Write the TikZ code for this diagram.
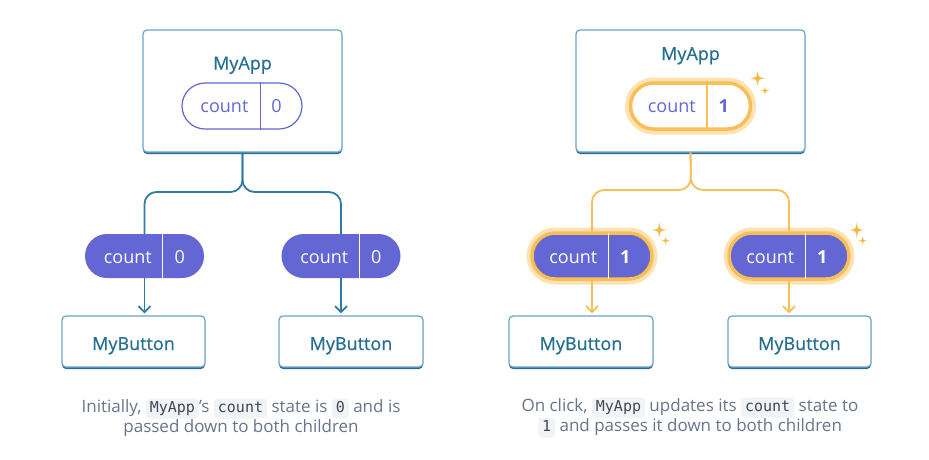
\documentclass[tikz,border=0pt]{standalone}
\usepackage{fontspec}
\setmainfont{Open Sans}
\setmonofont{DejaVu Sans Mono}
\newfontfamily\titlefont[FakeBold=0.6]{Open Sans}
\usetikzlibrary{arrows.meta,calc,shadows}

\definecolor{wire}{HTML}{2F7BA6}
\definecolor{boxline}{HTML}{6AA3C8}
\definecolor{boxdark}{HTML}{2D6D95}
\definecolor{title}{HTML}{246F92}
\definecolor{purp}{HTML}{6366D3}
\definecolor{gold}{HTML}{F9BE55}
\definecolor{glow}{HTML}{FDE3B2}
\definecolor{spark}{HTML}{F7B844}
\definecolor{captxt}{HTML}{677489}
\definecolor{codebg}{HTML}{F1F3F6}
\definecolor{codetxt}{HTML}{404756}

\tikzset{
  comp/.style={draw=boxline, line width=1.2pt, fill=white, rounded corners=4pt,
    drop shadow={shadow xshift=0pt, shadow yshift=-2pt, fill=boxdark, opacity=1}},
  compname/.style={anchor=base, text=title, font=\titlefont\fontsize{18}{20}\selectfont},
  cntpill/.style={minimum width=120pt, minimum height=46pt, rounded corners=23pt, inner sep=0pt},
  openpill/.style={cntpill, draw=purp, line width=1.2pt, fill=white},
  fullpill/.style={cntpill, fill=purp},
  litpill/.style={draw=gold, line width=3.5pt, preaction={draw=glow, line width=11pt}},
  cnt/.style={anchor=base, font=\fontsize{18}{20}\selectfont},
  wire/.style={draw=wire, line width=1.8pt},
  litwire/.style={draw=gold, line width=1.8pt},
  tip/.style={-{Straight Barb[length=6pt,width=12pt]}, shorten >=2pt},
  caption/.style={anchor=base, align=center, text=captxt, font=\fontsize{17}{20}\selectfont},
  codebox/.style={fill=codebg, rounded corners=4pt, inner xsep=4pt, inner ysep=2.5pt,
    text height=11pt, text depth=4pt, text=codetxt, font=\fontsize{15}{18}\ttfamily},
  sparkle/.pic={\fill[spark] (0,-1) .. controls (0.12,-0.12) .. (1,0)
    .. controls (0.12,0.12) .. (0,1) .. controls (-0.12,0.12) .. (-1,0)
    .. controls (-0.12,-0.12) .. (0,-1) -- cycle;}
}
\newcommand{\codechip}[1]{\tikz[baseline=(c.base)]\node[codebox](c){#1};}

\begin{document}
\begin{tikzpicture}[x=1pt, y=-1pt]
    \useasboundingbox (0,0) rectangle (929,459);

    % left: first render
    \node[comp, minimum width=199pt, minimum height=122pt] (app1) at (242.5,91) {};
    \node[compname] (app1n) at (242.5,69.5) {MyApp};
    \node[openpill] (p0) at (242,106) {};
    \draw[purp, line width=1.2pt] ($(p0.north west)+(79,0)$) -- ($(p0.south west)+(79,0)$);
    \node[cnt, text=purp] (p0a) at ($(p0.west)+(43,6.5)$) {count};
    \node[cnt, text=purp] (p0b) at ($(p0.west)+(95,6.5)$) {0};

    \node[fullpill, minimum width=119pt, minimum height=44pt, rounded corners=22pt] (p1) at (144.5,256) {};
    \draw[white, line width=1.2pt] ($(p1.north west)+(78,0)$) -- ($(p1.south west)+(78,0)$);
    \node[cnt, text=white] (p1a) at ($(p1.west)+(43,7)$) {count};
    \node[cnt, text=white] (p1b) at ($(p1.west)+(95,7)$) {0};

    \node[fullpill, minimum width=119pt, minimum height=44pt, rounded corners=22pt] (p2) at (341,256) {};
    \draw[white, line width=1.2pt] ($(p2.north west)+(78,0)$) -- ($(p2.south west)+(78,0)$);
    \node[cnt, text=white] (p2a) at ($(p2.west)+(43,7)$) {count};
    \node[cnt, text=white] (p2b) at ($(p2.west)+(95,7)$) {0};

    \node[comp, minimum width=143pt, minimum height=51pt] (b1) at (133.5,341.5) {};
    \node[compname] (b1n) at (133.5,350) {MyButton};
    \node[comp, minimum width=144pt, minimum height=51pt] (b2) at (351,341.5) {};
    \node[compname] (b2n) at (351,350) {MyButton};

    \coordinate (fork1) at (242.5,192);
    \draw[wire, rounded corners=12pt] (p1.north) |- (fork1) -- (app1.south);
    \draw[wire, rounded corners=12pt] (p2.north) |- (fork1) -- (app1.south);
    \draw[wire, tip] (p1.south) -- (p1.south |- b1.north);
    \draw[wire, tip] (p2.south) -- (p2.south |- b2.north);

    \node[caption] (cap1) at (241,432) {Initially, \codechip{MyApp}’s \codechip{count} state is \codechip{0} and is\\passed down to both children};

    % right: after the click
    \node[comp, minimum width=229pt, minimum height=122pt] (app2) at (690.5,91) {};
    \node[compname] (app2n) at (690.5,60) {MyApp};
    \node[openpill, litpill] (q0) at (690.5,106) {};
    \draw[gold, line width=1.5pt] ($(q0.north west)+(78,0)$) -- ($(q0.south west)+(78,0)$);
    \node[cnt, text=purp] (q0a) at ($(q0.west)+(43,6.5)$) {count};
    \node[cnt, text=purp] (q0b) at ($(q0.west)+(95,6.5)$) {\bfseries 1};
    \pic[scale=7.5] at (757.7,78.3) {sparkle};
    \pic[scale=4.5] at (765,90.7) {sparkle};

    \node[fullpill, litpill] (q1) at (592,256) {};
    \draw[white, line width=1.2pt, shorten <=1.7pt, shorten >=1.7pt] ($(q1.north west)+(78,0)$) -- ($(q1.south west)+(78,0)$);
    \node[cnt, text=white] (q1a) at ($(q1.west)+(43,7)$) {count};
    \node[cnt, text=white] (q1b) at ($(q1.west)+(95,7)$) {\bfseries 1};
    \pic[scale=7.5] at (659.3,230) {sparkle};
    \pic[scale=4.5] at (665.7,240.7) {sparkle};

    \node[fullpill, litpill] (q2) at (789,256) {};
    \draw[white, line width=1.2pt, shorten <=1.7pt, shorten >=1.7pt] ($(q2.north west)+(78,0)$) -- ($(q2.south west)+(78,0)$);
    \node[cnt, text=white] (q2a) at ($(q2.west)+(43,7)$) {count};
    \node[cnt, text=white] (q2b) at ($(q2.west)+(95,7)$) {\bfseries 1};
    \pic[scale=7.5] at (856.7,230) {sparkle};
    \pic[scale=4.5] at (862.7,240.7) {sparkle};

    \node[comp, minimum width=144pt, minimum height=51pt] (c1) at (581,341.5) {};
    \node[compname] (c1n) at (581,350) {MyButton};
    \node[comp, minimum width=143pt, minimum height=51pt] (c2) at (799.5,341.5) {};
    \node[compname] (c2n) at (799.5,350) {MyButton};

    \coordinate (fork2) at (691,190);
    \draw[litwire, rounded corners=12pt] (q1.north) |- (fork2) -- (app2.south);
    \draw[litwire, rounded corners=12pt] (q2.north) |- (fork2) -- (app2.south);
    \draw[litwire, tip] (q1.south) -- (q1.south |- c1.north);
    \draw[litwire, tip] (q2.south) -- (q2.south |- c2.north);

    \node[caption] (cap2) at (690,431) {On click, \codechip{MyApp} updates its \codechip{count} state to\\\codechip{1} and passes it down to both children};
\end{tikzpicture}
\end{document}
